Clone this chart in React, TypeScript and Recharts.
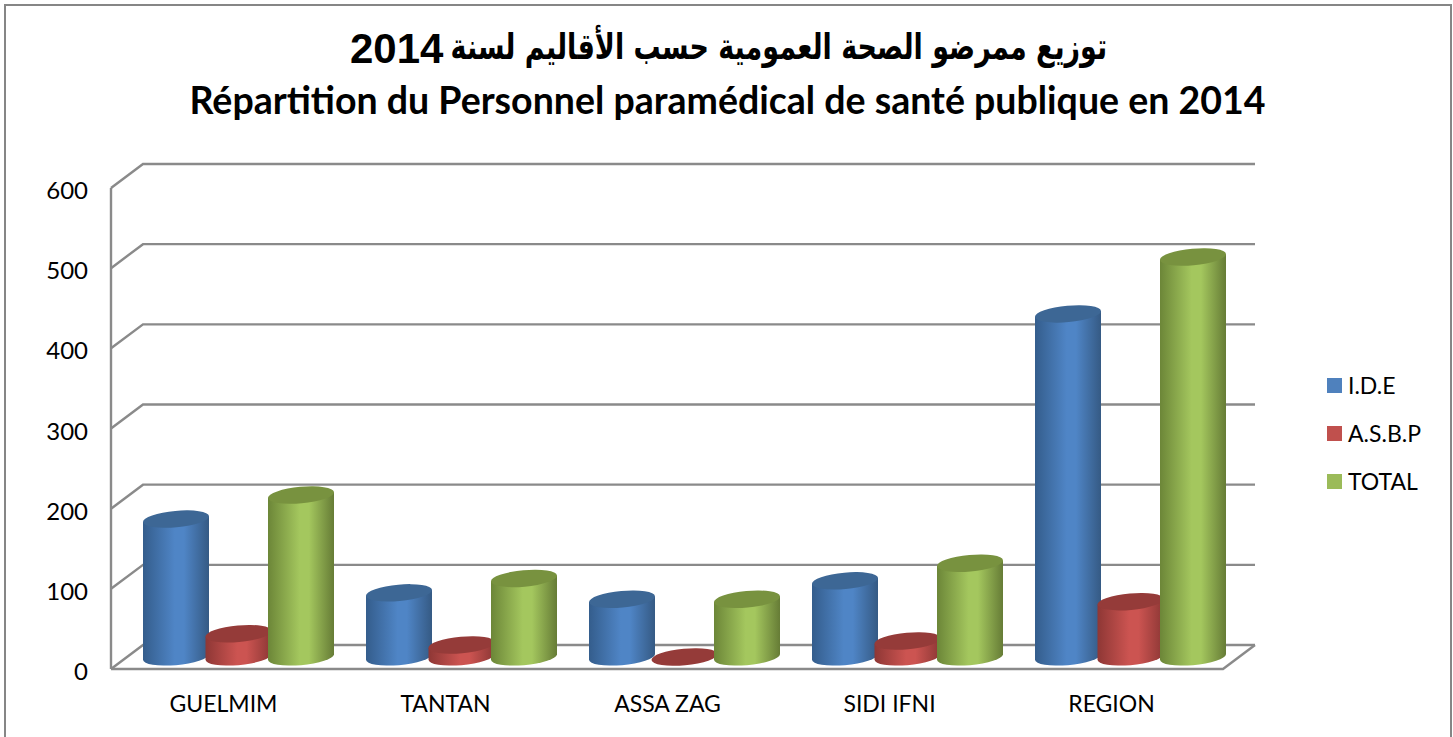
import * as React from "react";
import { BarChart, Bar, XAxis, YAxis, CartesianGrid, Legend } from "recharts";

const categories = ["GUELMIM", "TANTAN", "ASSA ZAG", "SIDI IFNI", "REGION"];
const ideValues = [172, 80, 72, 95, 428];
const asbpValues = [29, 15, 0, 20, 69];
const totalValues = [202, 98, 72, 117, 499];
const yTicks = [0, 100, 200, 300, 400, 500, 600];

const titleArabic = "توزيع ممرضو الصحة العمومية حسب الأقاليم لسنة";
const titleYear = "2014";
const titleFrench = "Répartition du Personnel paramédical de santé publique en 2014";

const data = categories.map((name, i) => ({
  name,
  ide: ideValues[i],
  asbp: asbpValues[i],
  total: totalValues[i],
}));

const WIDTH = 1453;
const HEIGHT = 737;
const PLOT_LEFT = 127;
const PLOT_RIGHT = 1242;
const PLOT_TOP = 176;
const PLOT_BOTTOM = 657;
// half of the 3D depth: floor front is down-left of the bars, wall is up-right
const DX = 16;
const DY = 12;
const GRID = "#8a8a8a";
const FONT = "Lato, Carlito, sans-serif";

const tints: Record<string, { edgeL: string; edgeR: string; mid: string; top: string }> = {
  ide: { edgeL: "#345d8c", edgeR: "#355a84", mid: "#4f85c6", top: "#3d6795" },
  asbp: { edgeL: "#8e3735", edgeR: "#8c3735", mid: "#cc5451", top: "#953b39" },
  total: { edgeL: "#6c8638", edgeR: "#667c36", mid: "#a4c75e", top: "#78923f" },
};

function Cylinder(props: any) {
  const { x, y, width, height, dataKey } = props;
  const tint = tints[dataKey];
  const cx = x + width / 2;
  const half = width / 2;
  const rx = half * 1.004;
  const ry = half * 0.25;
  const rot = -5.2;
  const tilt = half * 0.085;
  const bottom = y + height;
  const body =
    `M${cx - half},${y + tilt} L${cx - half},${bottom + tilt} ` +
    `A${rx},${ry} ${rot} 0 0 ${cx + half},${bottom - tilt} ` +
    `L${cx + half},${y - tilt} Z`;
  return (
    <g>
      {height > 0.5 && <path d={body} fill={`url(#cyl-${dataKey})`} />}
      <ellipse
        cx={cx}
        cy={y}
        rx={rx}
        ry={ry}
        fill={tint.top}
        transform={`rotate(${rot} ${cx} ${y})`}
      />
    </g>
  );
}

function gridLine(props: any) {
  const { x1, x2, y1, key } = props;
  const isFloor = Math.abs(y1 - PLOT_BOTTOM) < 1;
  // the wall is a little narrower than the band the cylinders sit in
  const left = x1;
  const right = x2 - 3;
  return (
    <g key={key} fill="none" stroke={GRID} strokeWidth={2.4}>
      <polyline
        points={`${left - DX},${y1 + DY} ${left + DX},${y1 - DY} ${right + DX},${y1 - DY}`}
      />
      {isFloor && (
        <>
          <polyline
            points={`${left - DX},${y1 + DY} ${right - DX},${y1 + DY} ${right + DX},${y1 - DY}`}
          />
          <line
            x1={left - DX}
            x2={left - DX}
            y1={PLOT_TOP + DY}
            y2={PLOT_BOTTOM + DY}
          />
        </>
      )}
    </g>
  );
}

function XTick({ x, y, index, payload }: any) {
  return (
    <text
      x={x - 15 - index}
      y={y + 47}
      textAnchor="middle"
      fontFamily={FONT}
      fontSize={23}
      fill="#000"
    >
      {payload.value}
    </text>
  );
}

function YTick({ x, y, payload }: any) {
  return (
    <text
      x={x - 31}
      y={y + 23}
      textAnchor="end"
      fontFamily={FONT}
      fontSize={24}
      fill="#000"
    >
      {payload.value}
    </text>
  );
}

function LegendBox({ payload }: any) {
  return (
    <div style={{ fontFamily: FONT, fontSize: 23, color: "#000" }}>
      {(payload || []).map((item: any) => (
        <div
          key={item.value}
          style={{ display: "flex", alignItems: "center", height: 48 }}
        >
          <span
            style={{
              display: "inline-block",
              width: 15,
              height: 15,
              marginRight: 6,
              background: item.color,
            }}
          />
          {item.value}
        </div>
      ))}
    </div>
  );
}

export default function App() {
  return (
    <div
      style={{
        position: "absolute",
        left: 0,
        top: 0,
        width: WIDTH,
        height: HEIGHT,
        overflow: "hidden",
        background: "#fff",
      }}
    >
      <div
        style={{
          position: "absolute",
          left: 4,
          top: 4,
          width: 1444,
          height: 760,
          border: "2px solid #868686",
        }}
      />
      <div
        dir="rtl"
        style={{
          position: "absolute",
          right: 1453 - 1107,
          top: 22,
          whiteSpace: "nowrap",
          transform: "scaleX(0.832)",
          transformOrigin: "right center",
          fontFamily: "'DejaVu Sans Condensed', 'DejaVu Sans', sans-serif",
          fontWeight: 700,
          fontSize: 36,
          lineHeight: "50px",
          color: "#000",
        }}
      >
        {titleArabic}
      </div>
      <div
        style={{
          position: "absolute",
          left: 350,
          top: 24,
          fontFamily: "'Liberation Sans', Arial, sans-serif",
          fontWeight: 700,
          fontSize: 42,
          lineHeight: "50px",
          color: "#000",
        }}
      >
        {titleYear}
      </div>
      <div
        style={{
          position: "absolute",
          left: 0,
          width: 1455,
          top: 75,
          textAlign: "center",
          fontFamily: FONT,
          fontWeight: 700,
          fontSize: 37.5,
          lineHeight: "50px",
          color: "#000",
        }}
      >
        {titleFrench}
      </div>
      <div style={{ position: "absolute", left: 0, top: 0 }}>
        <BarChart
          width={WIDTH}
          height={HEIGHT}
          data={data}
          barSize={66}
          barGap={-3.5}
          barCategoryGap={0}
          margin={{
            top: PLOT_TOP,
            bottom: 0,
            left: 0,
            right: WIDTH - PLOT_RIGHT,
          }}
        >
          <CartesianGrid horizontal={gridLine} vertical={false} />
          <XAxis
            dataKey="name"
            height={HEIGHT - PLOT_BOTTOM}
            axisLine={false}
            tickLine={false}
            interval={0}
            tick={<XTick />}
          />
          <YAxis
            width={PLOT_LEFT}
            domain={[0, 600]}
            ticks={yTicks}
            axisLine={false}
            tickLine={false}
            tick={<YTick />}
          />
          <Legend
            layout="vertical"
            align="center"
            verticalAlign="middle"
            itemSorter={null as any}
            content={<LegendBox />}
            wrapperStyle={{ left: 1327, top: 361, width: 120, height: 144 }}
          />
          <Bar dataKey="ide" name="I.D.E" fill="#4f81bd" shape={<Cylinder dataKey="ide" />} isAnimationActive={false} />
          <Bar dataKey="asbp" name="A.S.B.P" fill="#c0504d" shape={<Cylinder dataKey="asbp" />} isAnimationActive={false} />
          <Bar dataKey="total" name="TOTAL" fill="#9bbb59" shape={<Cylinder dataKey="total" />} isAnimationActive={false} />
          <defs>
            {Object.keys(tints).map((k) => (
              <linearGradient key={k} id={`cyl-${k}`} x1="0" x2="1" y1="0" y2="0">
                <stop offset="0%" stopColor={tints[k].edgeL} />
                <stop offset="48%" stopColor={tints[k].mid} />
                <stop offset="62%" stopColor={tints[k].mid} />
                <stop offset="100%" stopColor={tints[k].edgeR} />
              </linearGradient>
            ))}
          </defs>
        </BarChart>
      </div>
    </div>
  );
}
